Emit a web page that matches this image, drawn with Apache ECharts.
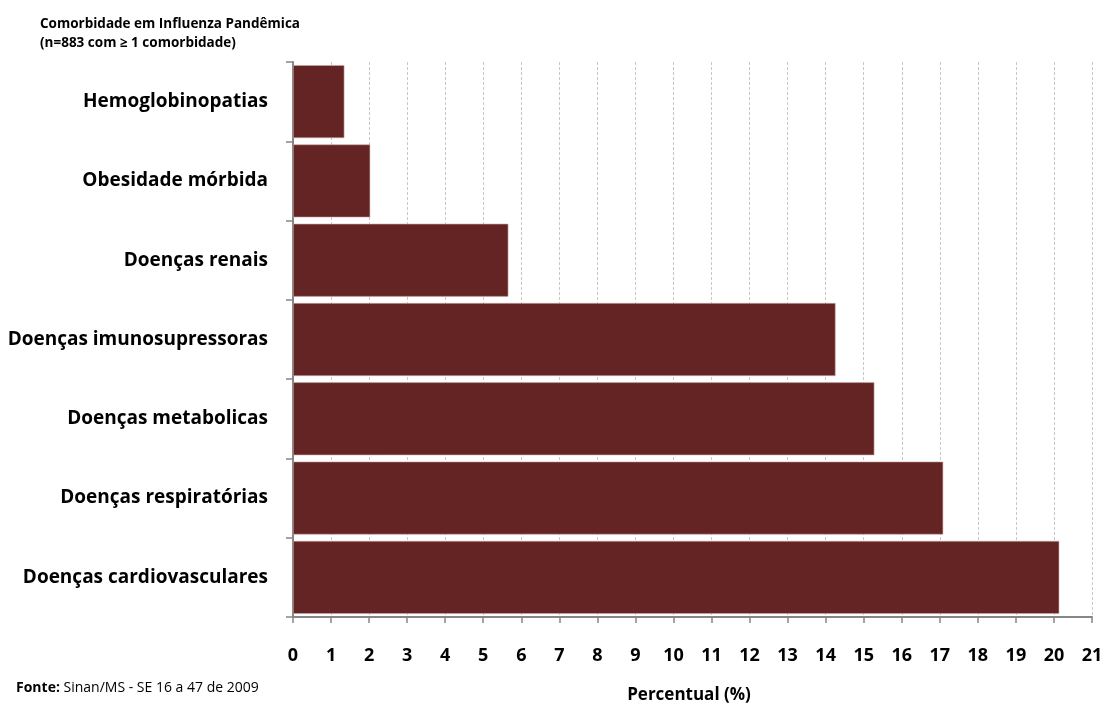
<!DOCTYPE html>
<html>
<head>
<meta charset="utf-8">
<script src="https://cdn.jsdelivr.net/npm/echarts@6/dist/echarts.min.js"></script>
<style>
html,body{margin:0;padding:0;background:#fff;}
#chart{width:1106px;height:705px;}
</style>
</head>
<body>
<div id="chart"></div>
<script>
// Comorbidities, listed bottom to top on the category axis
const categories = [
  'Doenças cardiovasculares',
  'Doenças respiratórias',
  'Doenças metabolicas',
  'Doenças imunosupressoras',
  'Doenças renais',
  'Obesidade mórbida',
  'Hemoglobinopatias'
];
// Percent of cases with each comorbidity
const percentValues = [20.14, 17.09, 15.28, 14.26, 5.66, 2.03, 1.35];

const xMin = 0, xMax = 21, xStep = 1;
const titleLines = ['Comorbidade em Influenza Pandêmica', '(n=883 com ≥ 1 comorbidade)'];
const xAxisName = 'Percentual (%)';
const sourceNote = ['Fonte:', 'Sinan/MS - SE 16 a 47 de 2009'];

const font = "'Open Sans', 'Noto Sans', sans-serif";
const chart = echarts.init(document.getElementById('chart'));

chart.setOption({
  animation: false,
  backgroundColor: '#ffffff',
  title: {
    text: titleLines.join('\n'),
    left: 35, top: 10,
    textStyle: { fontFamily: font, fontSize: 13.5, fontWeight: 'bold', color: '#000', lineHeight: 19 }
  },
  graphic: [
    {
      type: 'text', left: 16, top: 681,
      style: {
        text: '{b|' + sourceNote[0] + '} ' + sourceNote[1],
        rich: {
          b: { fontFamily: font, fontSize: 14, fontWeight: 'bold', fill: '#000' }
        },
        fontFamily: font, fontSize: 14, fill: '#000'
      }
    },
    {
      type: 'text', x: 689, y: 695,
      style: {
        text: xAxisName, align: 'center', verticalAlign: 'middle',
        fontFamily: font, fontSize: 17, fontWeight: 'bold', fill: '#000'
      }
    }
  ],
  grid: { left: 293, right: 14, top: 62, bottom: 88, containLabel: false },
  xAxis: {
    type: 'value',
    min: xMin, max: xMax, interval: xStep,
    axisLine: { show: true, lineStyle: { color: '#868686', width: 2 } },
    axisTick: { show: true, length: 6, lineStyle: { color: '#868686', width: 1.5 } },
    axisLabel: { margin: 30, fontFamily: font, fontSize: 18, fontWeight: 'bold', color: '#000' },
    splitLine: { show: true, lineStyle: { color: '#c8c8c8', type: [3, 2], width: 1 } }
  },
  yAxis: {
    type: 'category',
    data: categories,
    axisLine: { show: true, lineStyle: { color: '#868686', width: 2 } },
    axisTick: { show: true, length: 7, lineStyle: { color: '#868686', width: 1.5 } },
    axisLabel: { margin: 25, fontFamily: font, fontSize: 19, fontWeight: 'bold', color: '#000' },
    splitLine: { show: false }
  },
  series: [{
    type: 'bar',
    data: percentValues,
    barCategoryGap: '8%',
    itemStyle: { color: '#632423', borderColor: '#c9a9a8', borderWidth: 0.6 }
  }]
});
</script>
</body>
</html>
